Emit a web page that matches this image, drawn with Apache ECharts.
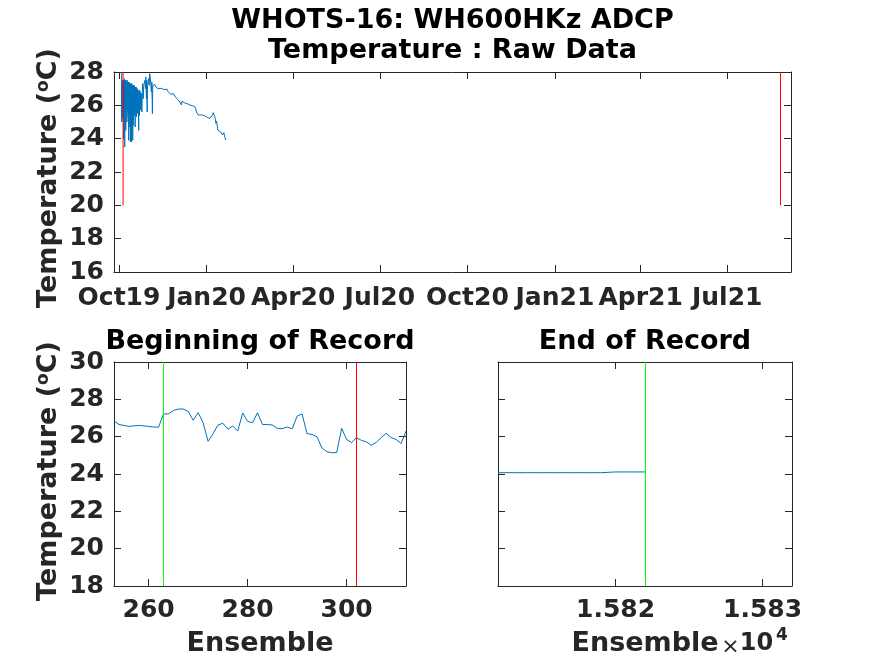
<!DOCTYPE html>
<html>
<head>
<meta charset="utf-8">
<script src="https://cdn.jsdelivr.net/npm/echarts@6.0.0/dist/echarts.min.js"></script>
<style>
html,body{margin:0;padding:0;background:#fff;}
#chart{width:874px;height:656px;}
</style>
</head>
<body>
<div id="chart"></div>
<script>
// ---------------- DATA ----------------
// Top panel: days since 2019-10-01 00:00 UTC and temperature (deg C)
const topDays = [
  2.8, 2.9, 3.1, 3.3, 3.5, 3.8, 4.0, 4.3, 4.6, 4.9, 5.2, 5.5, 5.8, 6.0, 6.3, 6.6, 6.9, 7.1, 7.4, 7.7,
  8.0, 8.3, 8.6, 8.9, 9.2, 9.6, 9.9, 10.2, 10.5, 10.8, 11.1, 11.4, 11.7, 12.0, 12.3, 12.6, 12.9, 13.1, 13.4, 13.8,
  14.1, 14.4, 14.7, 15.0, 15.3, 15.7, 16.0, 16.4, 16.7, 17.0, 17.3, 17.6, 18.0, 18.3, 18.6, 19.0, 19.3, 19.7, 20.0, 20.4,
  20.7, 21.0, 21.4, 21.8, 22.2, 22.6, 23.0, 23.5, 24.0,
  24.2, 24.8, 25.5, 26.0, 26.6, 27.2, 27.8, 28.2, 28.8, 29.2, 29.6, 30.0, 30.6, 31.2, 31.7, 32.3, 32.8, 33.3, 34.0, 34.5,
  35.1, 35.5, 36.2, 37.0, 37.8, 38.5, 39.3, 40.2, 41.1, 42.0, 42.8,
  44.6, 45.5, 46.3, 47.2, 48.1, 49.3, 50.6, 51.6, 52.5, 53.4, 54.2, 55.1, 56.0, 56.9, 57.8, 58.6, 59.5, 60.4, 61.4, 62.3,
  63.2, 64.0, 64.6, 65.6, 66.2, 66.7, 68.1, 69.0, 70.2, 71.5, 72.7, 73.5, 74.4, 75.8, 77.2, 78.5, 79.7, 80.7, 81.4, 82.1,
  83.2, 84.9, 86.5, 88.4, 89.8, 91.3, 92.7, 94.0, 95.5, 96.5, 97.3, 98.3, 99.0, 99.7, 100.7, 101.8, 102.5, 103.2, 103.9, 105.0,
  106.0, 107.0, 107.8, 108.8, 109.5, 110.2, 110.8, 111.3, 112.0
];
const topTemps = [
  28.0, 25.0, 27.3, 25.2, 27.5, 25.6, 27.5, 26.0, 27.5, 24.0, 27.5, 25.8, 27.6, 23.5, 27.5, 25.5, 27.5, 24.5, 27.5, 25.8,
  27.4, 25.0, 27.5, 25.6, 27.4, 25.3, 27.4, 23.9, 27.4, 25.5, 27.3, 24.7, 27.3, 23.8, 27.3, 25.6, 27.3, 23.8, 27.3, 25.4,
  27.2, 23.9, 27.2, 24.8, 27.2, 25.5, 27.2, 25.4, 27.1, 24.7, 27.1, 25.6, 27.1, 25.3, 27.0, 25.6, 27.0, 25.5, 26.9, 25.7,
  24.5, 26.9, 25.4, 26.9, 25.8, 26.8, 25.7, 26.7, 25.6,
  25.6, 27.3, 26.4, 27.2, 27.1, 27.5, 27.0, 27.7, 26.4, 27.5, 25.6, 27.2, 27.4, 27.6, 27.2, 27.9, 28.0, 27.4, 26.8, 27.4,
  25.5, 27.2, 27.3, 27.2, 27.25, 27.1, 27.15, 27.1, 27.0, 27.05, 27.0,
  27.02, 26.98, 27.04, 26.95, 26.92, 26.97, 26.96, 26.82, 26.78, 26.72, 26.66, 26.62, 26.7, 26.72, 26.6, 26.56, 26.55, 26.52, 26.36, 26.35,
  26.32, 26.2, 26.12, 26.02, 26.25, 26.22, 26.16, 26.15, 26.12, 26.1, 26.08, 26.05, 26.02, 26.0, 25.98, 25.95, 25.92, 25.76, 25.6, 25.52,
  25.42, 25.42, 25.43, 25.42, 25.38, 25.36, 25.28, 25.25, 25.22, 25.2, 25.16, 25.42, 25.56, 25.5, 25.32, 24.92, 25.05, 25.02, 24.52, 24.45,
  24.42, 24.4, 24.32, 24.22, 24.3, 24.36, 24.2, 24.08, 23.92
];
// Red reference lines in the top panel (days since 2019-10-01) and their vertical extent
const topRefDays = [4.3, 695];
const topRefRange = [20, 28];
// Top x-axis tick labels
const topTickDates = ['2019-10-01','2020-01-01','2020-04-01','2020-07-01','2020-10-01','2021-01-01','2021-04-01','2021-07-01'];
const topTickLabels = ['Oct19','Jan20','Apr20','Jul20','Oct20','Jan21','Apr21','Jul21'];

// Beginning of record
const begEnsemble = [253,254,255,256,257,258,259,260,261,262,263,264,265,266,267,268,269,270,271,272,
  273,274,275,276,277,278,279,280,281,282,283,284,285,286,287,288,289,290,291,292,
  293,294,295,296,297,298,299,300,301,302,303,304,305,306,307,308,309,310,311,312];
const begTemps = [26.85,26.65,26.6,26.55,26.58,26.6,26.58,26.55,26.52,26.5,27.22,27.22,27.4,27.48,27.48,27.35,26.88,27.29,26.75,25.75,
  26.15,26.62,26.72,26.4,26.57,26.3,27.27,26.82,26.75,27.28,26.65,26.65,26.62,26.45,26.43,26.52,26.42,27.1,27.22,26.16,
  26.12,26.0,25.4,25.2,25.14,25.15,26.45,25.85,25.68,25.95,25.8,25.72,25.54,25.7,25.95,26.18,25.95,25.85,25.63,26.3];
const begGreen = 263;
const begRed = 302;

// End of record
const endEnsemble = [15812,15813,15814,15815,15816,15817,15818,15819,15820,15821,15822];
const endTemps = [24.07,24.07,24.07,24.07,24.07,24.07,24.07,24.07,24.11,24.11,24.11];
const endGreen = 15822;

// ---------------- BUILD ----------------
const DAY0 = Date.UTC(2019, 9, 1);
const toDay = s => (Date.parse(s + 'T00:00:00Z') - DAY0) / 86400000;
const topTickDays = topTickDates.map(toDay);
const topData = topDays.map((d, i) => [d, topTemps[i]]);
const begData = begEnsemble.map((e, i) => [e, begTemps[i]]);
const endData = endEnsemble.map((e, i) => [e, endTemps[i]]);

const FONT = 'DejaVu Sans';
const C = '#262626';
const BLUE = '#0072BD';
const TICK_FS = 25;
const LAB_FS = 27;

const tickStyle = { show: true, inside: true, length: 7, lineStyle: { color: C, width: 1 } };
const lineStyle = { show: true, onZero: false, lineStyle: { color: C, width: 1 } };
const labelStyle = { fontFamily: FONT, fontWeight: 'bold', fontSize: TICK_FS, color: C };

function xAx(grid, min, max, pos, showLabel, ticks, fmt, margin) {
  return {
    type: 'value', gridIndex: grid, min: min, max: max, position: pos,
    axisLine: lineStyle,
    axisTick: Object.assign({}, tickStyle, { customValues: ticks }),
    axisLabel: Object.assign({}, labelStyle, { show: showLabel, customValues: ticks, formatter: fmt, margin: margin || 10, hideOverlap: false }),
    splitLine: { show: false }
  };
}
function yAx(grid, min, max, pos, showLabel) {
  return {
    type: 'value', gridIndex: grid, min: min, max: max, interval: 2, position: pos,
    axisLine: lineStyle, axisTick: tickStyle,
    axisLabel: Object.assign({}, labelStyle, { show: showLabel, margin: 10 }),
    splitLine: { show: false }
  };
}
const xName = {
  name: 'Ensemble', nameLocation: 'middle', nameGap: 44,
  nameTextStyle: { fontFamily: FONT, fontWeight: 'bold', fontSize: LAB_FS, color: C }
};

const topMin = -5.25, topMax = 706;
const topFmt = v => { const i = topTickDays.indexOf(v); return i >= 0 ? topTickLabels[i] : ''; };
const begTicks = [260, 280, 300];
const endTicks = [15820, 15830];

function titleText(x, y, text) {
  return { type: 'text', x: x, y: y, style: { text: text, fontFamily: FONT, fontWeight: 'bold', fontSize: LAB_FS, fill: '#000', textAlign: 'center', textVerticalAlign: 'middle' } };
}
function yLabel(x, y) {
  return {
    type: 'text', x: x, y: y, rotation: Math.PI / 2,
    style: {
      text: '{a|Temperature (}{b|o}{a|C)}', textAlign: 'center', textVerticalAlign: 'middle',
      rich: {
        a: { fontFamily: FONT, fontWeight: 'bold', fontSize: LAB_FS, fill: C },
        b: { fontFamily: FONT, fontWeight: 'bold', fontSize: 17, fill: C, verticalAlign: 'top' }
      }
    }
  };
}

const option = {
  backgroundColor: '#ffffff',
  animation: false,
  grid: [
    { left: 114, top: 72, width: 677, height: 200, outerBoundsMode: 'none' },
    { left: 114, top: 362, width: 292, height: 224, outerBoundsMode: 'none' },
    { left: 498, top: 362, width: 294, height: 224, outerBoundsMode: 'none' }
  ],
  xAxis: [
    xAx(0, topMin, topMax, 'bottom', true, topTickDays, topFmt, 14),
    xAx(0, topMin, topMax, 'top', false, topTickDays, topFmt),
    Object.assign(xAx(1, 253, 312, 'bottom', true, begTicks, v => String(v), 12), xName),
    xAx(1, 253, 312, 'top', false, begTicks),
    Object.assign(xAx(2, 15812, 15832, 'bottom', true, endTicks, v => (v / 10000).toFixed(3), 12), xName),
    xAx(2, 15812, 15832, 'top', false, endTicks)
  ],
  yAxis: [
    yAx(0, 16, 28, 'left', true),
    yAx(0, 16, 28, 'right', false),
    yAx(1, 18, 30, 'left', true),
    yAx(1, 18, 30, 'right', false),
    yAx(2, 18, 30, 'left', false),
    yAx(2, 18, 30, 'right', false)
  ],
  series: [
    {
      type: 'line', xAxisIndex: 0, yAxisIndex: 0, data: topData, showSymbol: false, symbol: 'none',
      lineStyle: { color: BLUE, width: 1 }, clip: true, silent: true
    },
    ...topRefDays.map(d => ({
      type: 'line', xAxisIndex: 0, yAxisIndex: 0, data: [[d, topRefRange[0]], [d, topRefRange[1]]],
      symbol: 'none', lineStyle: { color: '#FF0000', width: 1 }, silent: true
    })),
    {
      type: 'line', xAxisIndex: 2, yAxisIndex: 2, data: begData, symbol: 'none',
      lineStyle: { color: BLUE, width: 1 }, silent: true,
      markLine: {
        silent: true, symbol: 'none', label: { show: false }, animation: false,
        data: [
          { xAxis: begGreen, lineStyle: { color: '#00FF00', width: 1, type: 'solid' } },
          { xAxis: begRed, lineStyle: { color: '#FF0000', width: 1, type: 'solid' } }
        ]
      }
    },
    {
      type: 'line', xAxisIndex: 4, yAxisIndex: 4, data: endData, symbol: 'none',
      lineStyle: { color: BLUE, width: 1 }, silent: true,
      markLine: {
        silent: true, symbol: 'none', label: { show: false }, animation: false,
        data: [ { xAxis: endGreen, lineStyle: { color: '#00FF00', width: 1, type: 'solid' } } ]
      }
    }
  ],
  graphic: [
    titleText(452.5, 20.5, 'WHOTS-16: WH600HKz ADCP'),
    titleText(452.5, 50.5, 'Temperature : Raw Data'),
    titleText(260, 341.5, 'Beginning of Record'),
    titleText(645, 341.5, 'End of Record'),
    yLabel(49, 178),
    yLabel(49, 471),
    { type: 'text', x: 730.5, y: 647.5, style: { text: '×', fontFamily: FONT, fontSize: 22, fill: C, textAlign: 'center', textVerticalAlign: 'middle' } },
    { type: 'text', x: 756.5, y: 643.5, style: { text: '10', fontFamily: FONT, fontWeight: 'bold', fontSize: 24, fill: C, textAlign: 'center', textVerticalAlign: 'middle' } },
    { type: 'text', x: 782, y: 635.5, style: { text: '4', fontFamily: FONT, fontWeight: 'bold', fontSize: 17, fill: C, textAlign: 'center', textVerticalAlign: 'middle' } }
  ]
};

const chart = echarts.init(document.getElementById('chart'), null, { renderer: 'canvas' });
chart.setOption(option);
</script>
</body>
</html>
